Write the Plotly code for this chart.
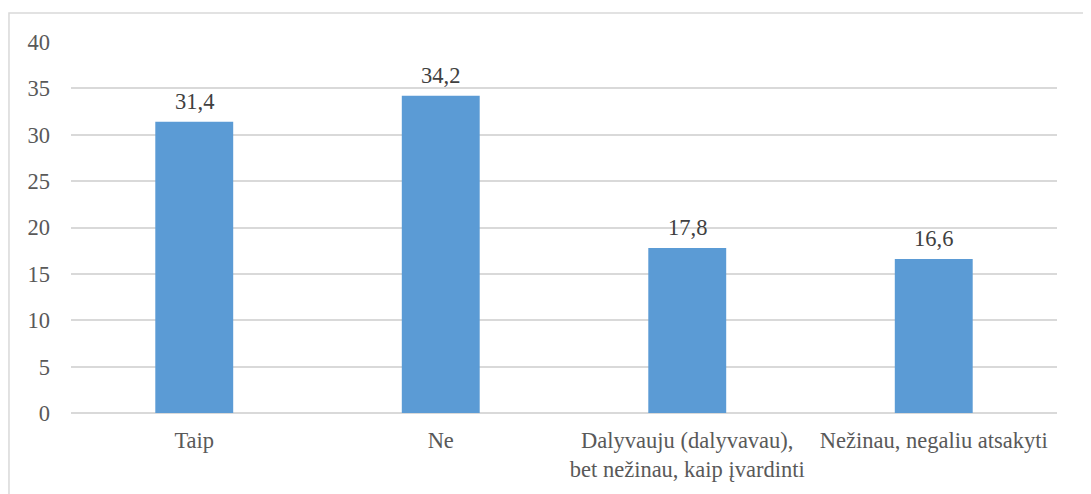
import plotly.graph_objects as go

categories = ["Taip", "Ne", "Dalyvauju (dalyvavau),<br>bet nežinau, kaip įvardinti",
              "Nežinau, negaliu atsakyti"]
values = [31.4, 34.2, 17.8, 16.6]
value_labels = ["31,4", "34,2", "17,8", "16,6"]

FONT = "Liberation Serif"
GREY = "#595959"
SIZE = 22.5

fig = go.Figure(go.Bar(
    x=categories, y=values,
    marker=dict(color="#5B9BD5", line=dict(width=0)),
    width=0.316,
))

# value labels above bars
for cat, val, lab in zip(categories, values, value_labels):
    fig.add_annotation(x=cat, y=val, text=lab, showarrow=False,
                       yanchor="bottom", yshift=6,
                       font=dict(family=FONT, size=SIZE, color="#404040"))

# chart border (page has an 8px body margin)
fig.add_shape(type="rect", xref="paper", yref="paper",
              x0=-0.0629, x1=1.05, y0=-0.3, y1=1.078,
              line=dict(color="#D9D9D9", width=1.5), fillcolor="rgba(0,0,0,0)",
              layer="below")

fig.update_layout(
    width=1091, height=494,
    margin=dict(l=63, r=42, t=34, b=89),
    paper_bgcolor="white", plot_bgcolor="white",
    showlegend=False,
    font=dict(family=FONT, size=SIZE, color=GREY),
    xaxis=dict(showgrid=False, showline=False, ticks="", ticklabelstandoff=11,
               tickfont=dict(family=FONT, size=SIZE, color=GREY)),
    yaxis=dict(range=[0, 40], dtick=5, showgrid=True, gridcolor="#D9D9D9",
               gridwidth=1.5, zeroline=True, zerolinecolor="#D9D9D9", zerolinewidth=1.5,
               showline=False, ticks="", ticklabelstandoff=20,
               tickfont=dict(family=FONT, size=SIZE, color=GREY)),
    bargap=0.684,
)

fig.write_html("out.html")
